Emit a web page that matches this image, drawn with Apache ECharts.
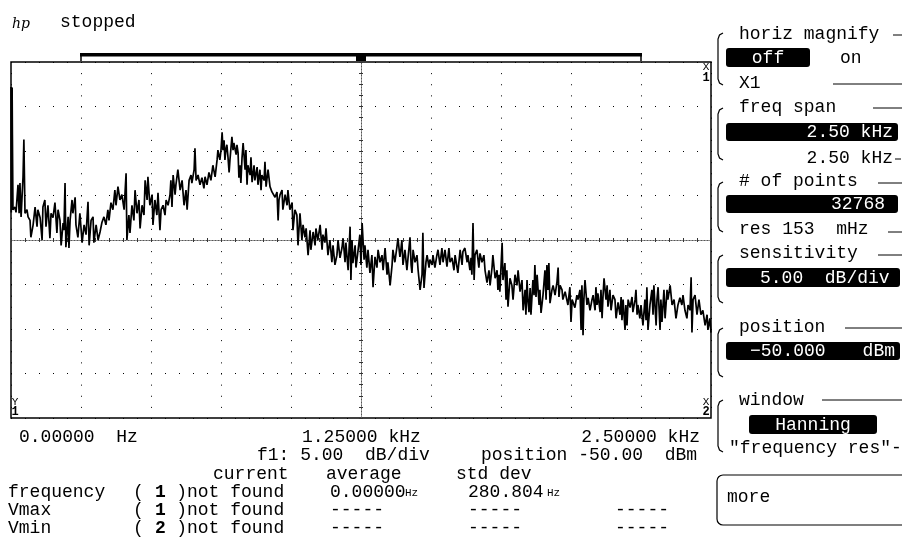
<!DOCTYPE html>
<html>
<head>
<meta charset="utf-8">
<script src="https://cdn.jsdelivr.net/npm/echarts@6/dist/echarts.min.js"></script>
<style>
  html, body { margin: 0; padding: 0; background: #fff; }
  #chart { width: 902px; height: 550px; }
</style>
</head>
<body>
<div id="chart"></div>
<script>
// 频谱曲线 频率 (Hz)
const traceHz = [
  0, 1, 2, 3, 4, 5, 7, 14, 18, 25, 29, 32,
  36, 43, 46, 50, 57, 61, 68, 71, 79, 86,
  93, 96, 104, 111, 114, 121, 125, 132, 139, 143,
  150, 157, 164, 168, 175, 179, 186, 189, 193, 196,
  204, 207, 211, 218, 221, 229, 232, 239, 246, 254,
  261, 268, 275, 279, 286, 293, 296, 304, 311, 318,
  325, 332, 339, 346, 350, 357, 364, 371, 375, 382,
  389, 396, 404, 411, 414, 421, 425, 432, 439, 443,
  450, 457, 461, 468, 475, 479, 486, 489, 496, 504,
  507, 514, 521, 525, 532, 536, 543, 550, 554, 561,
  568, 571, 575, 579, 586, 589, 596, 604, 611, 618,
  625, 629, 636, 643, 646, 654, 657, 661, 668, 675,
  682, 689, 693, 700, 707, 714, 721, 729, 736, 739,
  746, 750, 754, 757, 761, 764, 768, 771, 775, 779,
  782, 789, 793, 796, 804, 807, 811, 814, 818, 821,
  825, 829, 836, 839, 843, 846, 854, 857, 861, 868,
  871, 879, 882, 889, 893, 896, 904, 907, 911, 918,
  925, 932, 939, 943, 950, 954, 957, 961, 968, 971,
  979, 986, 989, 996, 1004, 1007, 1014, 1021, 1025, 1032,
  1039, 1043, 1050, 1054, 1061, 1068, 1071, 1079, 1086, 1089,
  1096, 1104, 1111, 1114, 1121, 1125, 1132, 1139, 1146, 1150,
  1157, 1164, 1168, 1175, 1182, 1186, 1193, 1196, 1204, 1211,
  1214, 1218, 1221, 1229, 1232, 1239, 1246, 1250, 1254, 1261,
  1264, 1271, 1275, 1282, 1289, 1293, 1300, 1307, 1311, 1318,
  1325, 1329, 1336, 1343, 1346, 1354, 1361, 1364, 1371, 1379,
  1382, 1389, 1393, 1396, 1400, 1407, 1414, 1418, 1425, 1429,
  1432, 1436, 1443, 1450, 1454, 1461, 1468, 1471, 1475, 1482,
  1486, 1493, 1496, 1504, 1507, 1514, 1521, 1525, 1532, 1539,
  1543, 1550, 1557, 1564, 1568, 1575, 1582, 1586, 1593, 1596,
  1604, 1611, 1614, 1621, 1629, 1632, 1639, 1643, 1646, 1650,
  1654, 1657, 1664, 1671, 1675, 1682, 1689, 1693, 1700, 1707,
  1711, 1718, 1721, 1729, 1736, 1739, 1743, 1746, 1754, 1757,
  1764, 1768, 1771, 1775, 1782, 1789, 1793, 1800, 1807, 1811,
  1818, 1825, 1829, 1836, 1839, 1843, 1846, 1850, 1854, 1857,
  1864, 1868, 1871, 1875, 1879, 1886, 1889, 1893, 1900, 1907,
  1911, 1914, 1918, 1921, 1925, 1932, 1936, 1943, 1950, 1954,
  1957, 1961, 1968, 1971, 1979, 1986, 1989, 1996, 2000, 2004,
  2007, 2014, 2021, 2025, 2032, 2036, 2039, 2043, 2046, 2050,
  2057, 2061, 2068, 2075, 2079, 2086, 2089, 2093, 2096, 2104,
  2107, 2111, 2114, 2118, 2125, 2129, 2132, 2139, 2143, 2150,
  2157, 2161, 2168, 2175, 2179, 2182, 2186, 2193, 2196, 2200,
  2204, 2211, 2218, 2221, 2229, 2232, 2236, 2239, 2246, 2250,
  2257, 2264, 2268, 2271, 2275, 2282, 2289, 2293, 2296, 2304,
  2307, 2311, 2318, 2321, 2325, 2332, 2336, 2343, 2346, 2354,
  2361, 2368, 2375, 2382, 2389, 2396, 2400, 2407, 2414, 2418,
  2425, 2429, 2432, 2436, 2443, 2450, 2457, 2464, 2471, 2479,
  2486, 2489, 2496, 2500
];
// 频谱曲线 幅度 (dBm)
const traceDb = [
  -32.8, -46.9, -32.8, -38.2, -32.9, -38.2, -46.6, -46.3, -46.9, -43.8, -47.0, -43.6,
  -47.4, -42.9, -38.7, -47.0, -46.6, -47.4, -47.8, -49.7, -48.3, -46.3,
  -48.5, -46.6, -47.5, -50.0, -46.3, -45.5, -48.5, -46.1, -49.8, -47.0,
  -47.5, -45.8, -49.2, -46.6, -47.8, -50.6, -48.1, -48.9, -43.6, -50.8,
  -47.4, -50.9, -47.8, -45.5, -47.0, -45.2, -48.3, -49.7, -47.0, -50.3,
  -48.3, -49.4, -45.7, -50.6, -47.8, -47.4, -50.3, -48.3, -50.0, -49.1,
  -48.0, -47.4, -48.3, -46.6, -47.8, -45.8, -46.6, -44.4, -46.1, -44.0,
  -45.5, -44.9, -46.6, -42.5, -50.0, -47.2, -49.2, -46.1, -47.8, -44.4,
  -47.0, -45.5, -48.7, -46.1, -47.2, -43.3, -45.5, -42.9, -46.1, -44.9,
  -48.3, -45.5, -47.2, -44.7, -48.9, -46.6, -46.1, -47.2, -45.5, -46.1,
  -44.9, -43.3, -46.3, -42.7, -44.9, -43.8, -42.1, -44.4, -43.3, -46.1,
  -44.4, -46.6, -43.3, -42.7, -43.6, -42.1, -39.7, -43.3, -42.7, -43.8,
  -43.0, -44.2, -42.9, -43.8, -42.4, -43.3, -41.6, -42.9, -41.0, -39.9,
  -41.0, -39.9, -37.9, -39.9, -38.8, -41.0, -39.7, -39.3, -40.7, -42.4,
  -41.0, -38.4, -39.9, -39.1, -40.4, -39.3, -40.2, -43.0, -41.6, -43.6,
  -40.8, -39.1, -42.1, -39.9, -43.8, -41.6, -42.7, -40.7, -43.5, -41.6,
  -43.3, -41.8, -43.8, -42.1, -44.4, -42.7, -43.3, -41.2, -44.0, -42.1,
  -44.0, -44.6, -44.4, -45.2, -44.6, -47.8, -45.5, -44.9, -44.4, -46.6,
  -44.9, -46.1, -44.4, -46.6, -45.8, -48.9, -46.6, -47.2, -50.6, -47.0,
  -50.0, -48.3, -49.7, -48.7, -51.7, -48.9, -51.1, -49.1, -50.6, -48.7,
  -50.0, -48.3, -51.1, -49.4, -50.3, -48.7, -51.7, -50.0, -52.5, -50.6,
  -52.8, -51.7, -50.0, -52.0, -50.9, -49.8, -52.5, -50.3, -53.4, -48.5,
  -54.5, -50.0, -52.6, -50.6, -53.1, -51.3, -49.4, -52.8, -48.1, -52.2,
  -50.6, -53.1, -51.1, -53.7, -51.7, -55.3, -51.9, -53.1, -51.1, -52.5,
  -51.7, -53.4, -50.9, -53.9, -52.5, -55.1, -52.8, -51.1, -52.5, -50.6,
  -49.8, -51.9, -50.9, -50.0, -52.8, -51.1, -53.4, -52.0, -49.7, -52.8,
  -53.7, -51.1, -52.5, -51.7, -53.4, -55.6, -53.9, -49.2, -55.4, -52.5,
  -51.7, -53.1, -52.2, -52.8, -51.7, -53.1, -51.7, -51.1, -52.8, -50.9,
  -52.5, -51.1, -53.0, -50.9, -52.5, -52.0, -53.4, -51.7, -51.7, -53.7,
  -51.1, -52.8, -51.3, -50.9, -52.5, -51.7, -53.4, -52.0, -53.9, -48.1,
  -54.5, -51.7, -51.1, -53.1, -51.5, -52.5, -51.7, -53.4, -54.8, -53.4,
  -55.1, -53.1, -51.7, -54.3, -53.4, -55.6, -53.9, -55.8, -50.3, -54.5,
  -52.6, -56.7, -53.4, -57.5, -54.3, -55.1, -56.7, -53.9, -55.1, -53.4,
  -55.8, -54.5, -57.9, -55.6, -58.4, -54.5, -56.7, -58.1, -55.4, -58.4,
  -54.5, -56.2, -52.8, -56.4, -53.9, -57.3, -55.6, -58.2, -56.2, -53.4,
  -56.7, -52.8, -55.6, -52.6, -57.1, -55.6, -55.1, -56.2, -54.7, -53.1,
  -56.4, -55.1, -55.6, -56.7, -55.8, -55.6, -57.3, -55.3, -59.2, -56.7,
  -56.5, -57.6, -56.2, -56.7, -55.6, -60.1, -55.1, -60.7, -56.7, -54.5,
  -57.3, -56.5, -57.9, -56.7, -56.2, -57.9, -55.3, -57.3, -56.0, -58.1,
  -55.6, -58.8, -56.5, -54.3, -56.7, -55.1, -57.5, -55.6, -57.9, -56.2,
  -56.7, -58.8, -57.0, -58.4, -56.4, -59.0, -56.7, -60.1, -57.3, -59.6,
  -56.7, -57.6, -56.4, -58.1, -56.7, -55.6, -58.4, -57.3, -58.8, -57.3,
  -59.6, -56.7, -59.0, -55.3, -60.1, -57.3, -55.6, -58.4, -55.1, -59.6,
  -56.7, -55.3, -60.1, -56.7, -59.2, -55.6, -58.8, -55.6, -56.7, -55.1,
  -57.3, -56.7, -58.8, -57.3, -56.5, -57.3, -56.2, -57.9, -58.8, -57.3,
  -57.9, -54.2, -60.4, -56.7, -56.2, -58.4, -56.7, -58.4, -57.9, -59.6,
  -58.4, -60.1, -58.8, -60.4
];

// 坐标轴范围: 0 - 2.5 kHz, 5 dB/div, 中心 -50 dBm
const freqRange = [0, 2500];
const freqStep = 250;
const dbRange = [-70, -30];
const dbStep = 5;

// 屏幕文字
const freqLabels = ['0.00000  Hz', '1.25000 kHz', '2.50000 kHz'];
const scaleLabels = ['f1: 5.00  dB/div', 'position -50.00  dBm'];
const statHeaders = ['current', 'average', 'std dev'];
const statRows = ['frequency', 'Vmax', 'Vmin'];
const statMarkers = ['1', '1', '2'];
const statAverage = ['0.00000', '-----', '-----'];
const statStdDev = ['280.804', '-----', '-----'];
const statExtra = ['', '-----', '-----'];

const FONT = '"Liberation Mono", "DejaVu Sans Mono", monospace';

const chart = echarts.init(document.getElementById('chart'));

// 文字
function txt(x, y, text, o) {
  o = o || {};
  return {
    type: 'text', x: x, y: y, silent: true,
    style: {
      text: text,
      font: (o.italic ? 'italic ' : '') + (o.bold ? 'bold ' : '') + (o.size || 18) + 'px ' + (o.family || FONT),
      fill: o.color || '#000',
      align: o.align || 'left',
      verticalAlign: 'middle'
    }
  };
}
// 黑底框
function box(x, y, w, h) {
  return { type: 'rect', silent: true, shape: { x: x, y: y, width: w, height: h, r: 3 }, style: { fill: '#000' } };
}
function seg(pts, w) {
  return { type: 'polyline', silent: true, shape: { points: pts }, style: { stroke: '#000', lineWidth: w || 1, fill: null } };
}
// 左侧括号
function bracket(top, bot) {
  return seg([[723, top], [719.5, top + 2], [718, top + 6], [718, bot - 6], [719.5, bot - 2], [723, bot]], 1.2);
}

const W = '#fff';
let g = [];

// 顶部
g.push(txt(12, 24, 'hp', { italic: true, size: 14, family: 'DejaVu Serif' }));
g.push(txt(60, 22, 'stopped'));
g.push({ type: 'rect', silent: true, shape: { x: 80, y: 53, width: 562, height: 3.5 }, style: { fill: '#000' } });
g.push(seg([[81, 55], [81, 61]], 1.5));
g.push(seg([[641, 55], [641, 61]], 1.5));
g.push({ type: 'rect', silent: true, shape: { x: 356, y: 56, width: 10, height: 5 }, style: { fill: '#000' } });

// 标记
g.push(txt(706, 67, 'X', { size: 11, align: 'center' }));
g.push(txt(706, 78, '1', { size: 12, bold: true, align: 'center' }));
g.push(txt(706, 402, 'X', { size: 11, align: 'center' }));
g.push(txt(706, 412, '2', { size: 12, bold: true, align: 'center' }));
g.push(txt(15, 402, 'Y', { size: 11, align: 'center' }));
g.push(txt(15, 412, '1', { size: 12, bold: true, align: 'center' }));

// 右侧面板
g.push(txt(739, 34, 'horiz magnify'));
g.push(seg([[893, 35], [902, 35]]));
g.push(bracket(33, 85));
g.push(box(726, 48, 84, 19));
g.push(txt(768, 58, 'off', { color: W, align: 'center' }));
g.push(txt(840, 58, 'on'));
g.push(txt(739, 83, 'X1'));
g.push(seg([[833, 84], [902, 84]]));

g.push(txt(739, 107, 'freq span'));
g.push(seg([[873, 108], [902, 108]]));
g.push(bracket(108, 160));
g.push(box(726, 123, 172, 18));
g.push(txt(893, 132, '2.50 kHz', { color: W, align: 'right' }));
g.push(txt(893, 158, '2.50 kHz', { align: 'right' }));
g.push(seg([[895, 159], [901, 159]]));

g.push(txt(739, 181, '# of points'));
g.push(seg([[878, 183], [902, 183]]));
g.push(bracket(182, 232));
g.push(box(726, 195, 172, 18));
g.push(txt(885, 204, '32768', { color: W, align: 'right' }));
g.push(txt(739, 229, 'res 153  mHz'));
g.push(seg([[888, 232], [902, 232]]));

g.push(txt(739, 253, 'sensitivity'));
g.push(seg([[878, 255], [902, 255]]));
g.push(bracket(255, 303));
g.push(box(726, 268, 174, 19));
g.push(txt(760, 278, '5.00  dB/div', { color: W }));

g.push(txt(739, 327, 'position'));
g.push(seg([[845, 328], [902, 328]]));
g.push(bracket(328, 377));
g.push(box(726, 342, 174, 18));
g.push(txt(750, 351, '\u221250.000', { color: W }));
g.push(txt(895, 351, 'dBm', { color: W, align: 'right' }));

g.push(txt(739, 400, 'window'));
g.push(seg([[822, 400], [902, 400]]));
g.push(bracket(400, 452));
g.push(box(749, 415, 128, 19));
g.push(txt(813, 425, 'Hanning', { color: W, align: 'center' }));
g.push(txt(729, 448, '"frequency res"-'));

g.push({ type: 'rect', silent: true, shape: { x: 717, y: 475, width: 200, height: 50, r: 6 }, style: { fill: null, stroke: '#000', lineWidth: 1.2 } });
g.push(txt(727, 497, 'more'));

// 底部读数
g.push(txt(19, 437, freqLabels[0]));
g.push(txt(302, 437, freqLabels[1]));
g.push(txt(700, 437, freqLabels[2], { align: 'right' }));
g.push(txt(257, 455, scaleLabels[0]));
g.push(txt(481, 455, scaleLabels[1]));
g.push(txt(213, 474, statHeaders[0]));
g.push(txt(326, 474, statHeaders[1]));
g.push(txt(456, 474, statHeaders[2]));
statRows.forEach((name, i) => {
  const y = 492 + i * 18;
  g.push(txt(8, y, name));
  g.push(txt(133, y, '(   )not found'));
  g.push(txt(155, y, statMarkers[i], { bold: true }));
  g.push(txt(330, y, statAverage[i]));
  g.push(txt(468, y, statStdDev[i]));
  g.push(txt(615, y, statExtra[i]));
  if (i === 0) {
    g.push(txt(405, y + 1, 'Hz', { size: 11 }));
    g.push(txt(547, y + 1, 'Hz', { size: 11 }));
  }
});

// 中心刻度轴
function centerY(pos) {
  return {
    type: 'value', min: dbRange[0], max: dbRange[1], interval: dbStep,
    position: pos, offset: -350,
    axisLine: { show: true, onZero: false, lineStyle: { color: '#555', width: 1, type: [1, 2] } },
    axisTick: { show: true, length: 2, lineStyle: { color: '#333' } },
    minorTick: { show: true, splitNumber: 4, length: 2, lineStyle: { color: '#333' } },
    axisLabel: { show: false }, splitLine: { show: false }
  };
}
function centerX(pos) {
  return {
    type: 'value', min: freqRange[0], max: freqRange[1], interval: freqStep,
    position: pos, offset: -178,
    axisLine: { show: true, onZero: false, lineStyle: { color: '#555', width: 1, type: [1, 2] } },
    axisTick: { show: true, length: 2, lineStyle: { color: '#333' } },
    minorTick: { show: true, splitNumber: 5, length: 2, lineStyle: { color: '#333' } },
    axisLabel: { show: false }, splitLine: { show: false }
  };
}

let option = {
  backgroundColor: '#fff',
  animation: false,
  grid: {
    left: 11, top: 62, width: 700, height: 356,
    show: true, borderColor: '#000', borderWidth: 1.5, backgroundColor: '#fff'
  },
  xAxis: [{
    type: 'value', min: freqRange[0], max: freqRange[1], interval: freqStep,
    axisLine: { show: false }, axisTick: { show: false }, axisLabel: { show: false },
    splitLine: { show: true, lineStyle: { color: '#000', width: 1, type: [1, 10.125] } }
  }, centerX('top'), centerX('bottom')],
  yAxis: [{
    type: 'value', min: dbRange[0], max: dbRange[1], interval: dbStep,
    axisLine: { show: false }, axisTick: { show: false }, axisLabel: { show: false },
    splitLine: { show: true, lineStyle: { color: '#000', width: 1, type: [1, 13] } }
  }, centerY('left'), centerY('right')],
  series: [{
    type: 'line',
    xAxisIndex: 0, yAxisIndex: 0,
    data: traceHz.map((f, i) => [f, traceDb[i]]),
    showSymbol: false,
    sampling: null,
    lineStyle: { color: '#000', width: 1.7 },
    z: 5
  }],
  graphic: g
};

chart.setOption(option);
</script>
</body>
</html>
